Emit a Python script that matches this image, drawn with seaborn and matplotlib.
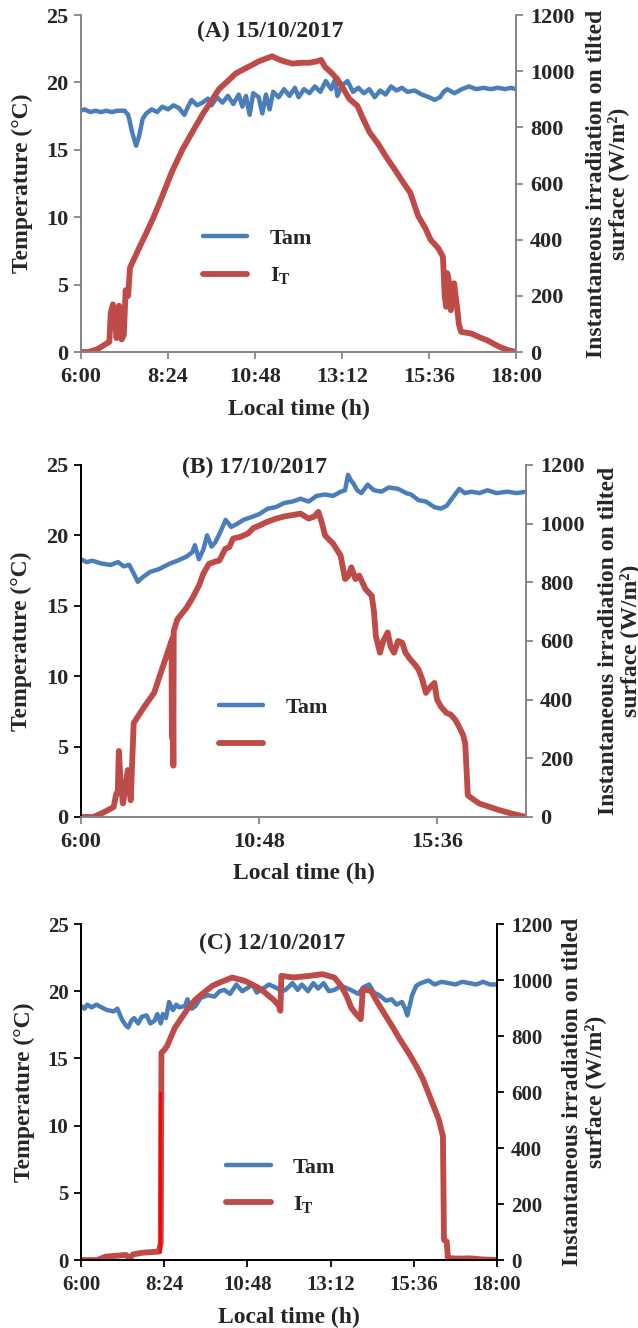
import numpy as np
import pandas as pd
import matplotlib
matplotlib.use("Agg")
import matplotlib.pyplot as plt
import seaborn as sns


# ==== data (hours, degC, W/m2) ====
a_t_tam = [6.00, 6.10, 6.25, 6.40, 6.55, 6.70, 6.85, 7.00, 7.20, 7.30, 7.42, 7.52, 7.60, 7.70,
           7.80, 7.95, 8.10, 8.24, 8.40, 8.55, 8.70, 8.85, 8.95, 9.05, 9.20, 9.35, 9.50, 9.60,
           9.75, 9.90, 10.05, 10.20, 10.35, 10.45, 10.55, 10.65, 10.75, 10.90, 11.00, 11.10,
           11.20, 11.30, 11.45, 11.60, 11.75, 11.90, 12.00, 12.15, 12.30, 12.45, 12.60, 12.75,
           12.90, 13.00, 13.07, 13.20, 13.35, 13.50, 13.65, 13.80, 13.95, 14.10, 14.25, 14.40,
           14.55, 14.70, 14.85, 15.00, 15.20, 15.40, 15.60, 15.75, 15.90, 16.00, 16.10, 16.30,
           16.50, 16.70, 16.90, 17.10, 17.30, 17.50, 17.70, 17.85, 18.00]
a_tam = [17.9, 18.0, 17.8, 17.9, 17.8, 17.9, 17.8, 17.9, 17.9, 17.6, 16.2, 15.3, 16.0, 17.3,
         17.7, 18.0, 17.8, 18.2, 18.0, 18.3, 18.1, 17.6, 18.2, 18.7, 18.3, 18.5, 18.8, 18.3,
         18.9, 18.5, 19.0, 18.4, 19.1, 18.2, 19.0, 17.6, 19.2, 18.9, 17.7, 19.1,
         18.0, 19.3, 18.9, 19.5, 19.0, 19.6, 18.9, 19.5, 19.2, 19.7, 19.3, 20.1,
         19.5, 20.2, 19.0, 19.8, 20.1, 19.3, 19.6, 19.2, 19.5, 18.9, 19.4, 19.1,
         19.7, 19.4, 19.6, 19.3, 19.4, 19.1, 18.9, 18.7, 18.9, 19.3, 19.5, 19.2,
         19.5, 19.7, 19.5, 19.6, 19.5, 19.6, 19.5, 19.6, 19.5]
a_t_irr = [6.00, 6.20, 6.45, 6.70, 6.78, 6.82, 6.88, 6.93, 6.98, 7.05, 7.12, 7.18, 7.23, 7.30,
           7.35, 7.60, 7.80, 8.00, 8.24, 8.50, 8.80, 9.10, 9.36, 9.60, 9.81, 10.05, 10.26,
           10.50, 10.70, 10.90, 11.10, 11.27, 11.45, 11.60, 11.83, 12.10, 12.30, 12.50, 12.62,
           12.73, 12.90, 13.06, 13.20, 13.40, 13.62, 13.80, 13.96, 14.20, 14.40, 14.60, 14.86,
           15.08, 15.30, 15.50, 15.64, 15.85, 15.98, 16.03, 16.07, 16.10, 16.15, 16.20, 16.25,
           16.29, 16.33, 16.37, 16.42, 16.48, 16.76, 17.00, 17.20, 17.40, 17.55, 17.75, 18.00]
a_irr = [0, 0, 10, 30, 36, 140, 170, 120, 50, 165, 45, 60, 220, 200,
         300, 370, 424, 480, 555, 640, 722, 790, 848, 895, 937, 965, 991,
         1008, 1021, 1035, 1045, 1053, 1042, 1035, 1027, 1030, 1030, 1035, 1040,
         1015, 995, 973, 945, 901, 877, 825, 782, 740, 698, 660, 609,
         567, 484, 440, 400, 370, 340, 200, 161, 281, 250, 149, 240,
         245, 200, 161, 100, 72, 66, 52, 42, 28, 18, 8, 0]

b_t_tam = [6.00, 6.15, 6.30, 6.55, 6.80, 7.00, 7.15, 7.30, 7.42, 7.53, 7.65, 7.86, 8.10, 8.40,
           8.60, 8.85, 9.00, 9.07, 9.18, 9.30, 9.40, 9.52, 9.62, 9.75, 9.90, 10.05, 10.20,
           10.38, 10.60, 10.80, 11.04, 11.25, 11.48, 11.70, 11.92, 12.14, 12.35, 12.58, 12.80,
           13.00, 13.12, 13.20, 13.28, 13.34, 13.45, 13.56, 13.73, 13.90, 14.10, 14.30, 14.55,
           14.77, 14.90, 15.10, 15.30, 15.53, 15.70, 15.86, 16.00, 16.20, 16.35, 16.52, 16.75,
           16.96, 17.20, 17.50, 17.75, 18.00]
b_tam = [18.3, 18.1, 18.2, 18.0, 17.9, 18.1, 17.8, 17.9, 17.3, 16.7, 17.0, 17.4, 17.6, 18.0,
         18.2, 18.5, 18.8, 19.3, 18.3, 19.0, 20.0, 19.2, 19.5, 20.2, 21.1, 20.6, 20.8,
         21.1, 21.3, 21.5, 21.9, 22.0, 22.3, 22.4, 22.6, 22.4, 22.8, 22.9, 22.8,
         23.1, 23.2, 24.3, 23.9, 23.7, 23.2, 23.0, 23.6, 23.2, 23.1, 23.4, 23.3,
         23.0, 22.9, 22.5, 22.4, 22.0, 21.9, 22.1, 22.6, 23.3, 23.0, 23.1, 23.0,
         23.2, 23.0, 23.1, 23.0, 23.1]
b_t_irr = [6.00, 6.33, 6.60, 6.88, 6.95, 6.99, 7.02, 7.07, 7.13, 7.20, 7.26, 7.34, 7.42, 7.70,
           7.97, 8.20, 8.41, 8.44, 8.45, 8.47, 8.49, 8.50, 8.60, 8.85, 9.00, 9.18, 9.30, 9.45,
           9.60, 9.73, 9.89, 10.00, 10.10, 10.30, 10.50, 10.65, 10.82, 11.00, 11.26, 11.50,
           11.70, 11.92, 12.14, 12.30, 12.40, 12.50, 12.58, 12.80, 13.00, 13.12, 13.20, 13.29,
           13.40, 13.50, 13.67, 13.84, 13.90, 13.95, 14.06, 14.15, 14.27, 14.35, 14.44, 14.55,
           14.66, 14.75, 14.88, 15.00, 15.10, 15.20, 15.30, 15.40, 15.53, 15.60, 15.70, 15.85,
           15.97, 16.10, 16.19, 16.30, 16.36, 16.40, 16.43, 16.60, 16.74, 17.00, 17.29, 17.60,
           18.00]
b_irr = [0, 0, 15, 34, 80, 80, 225, 120, 46, 100, 160, 57, 320, 375,
         423, 510, 589, 600, 270, 610, 175, 634, 674, 714, 745, 789, 830, 863,
         870, 874, 914, 920, 949, 955, 966, 985, 994, 1005, 1017, 1025,
         1029, 1034, 1017, 1025, 1040, 1000, 960, 931, 891, 811, 820, 851,
         811, 823, 777, 754, 700, 617, 560, 600, 629, 580, 560, 600,
         594, 560, 537, 520, 503, 470, 423, 440, 457, 400, 377, 355,
         349, 330, 309, 280, 251, 150, 74, 58, 46, 35, 23, 12,
         0]

c_t_tam = [6.00, 6.10, 6.18, 6.30, 6.45, 6.59, 6.75, 6.94, 7.05, 7.18, 7.28, 7.36, 7.45, 7.53,
           7.65, 7.75, 7.89, 8.00, 8.12, 8.20, 8.30, 8.36, 8.45, 8.54, 8.65, 8.75, 8.83, 9.00,
           9.07, 9.20, 9.30, 9.45, 9.66, 9.85, 10.00, 10.13, 10.30, 10.48, 10.65, 10.84, 10.95,
           11.07, 11.25, 11.42, 11.60, 11.80, 11.90, 12.10, 12.25, 12.37, 12.55, 12.70, 12.84,
           13.00, 13.15, 13.31, 13.50, 13.78, 14.00, 14.15, 14.31, 14.45, 14.60, 14.80, 14.96,
           15.10, 15.26, 15.35, 15.41, 15.48, 15.55, 15.67, 15.80, 16.02, 16.20, 16.40, 16.61,
           16.80, 17.00, 17.20, 17.40, 17.60, 17.80, 18.00]
c_tam = [18.9, 18.7, 19.0, 18.8, 19.0, 18.8, 18.6, 18.5, 18.7, 17.9, 17.5, 17.3, 17.8, 18.0,
         17.6, 18.1, 18.2, 17.6, 17.8, 18.3, 17.6, 18.3, 18.0, 19.2, 18.6, 19.0, 18.8, 18.9,
         19.4, 18.7, 18.9, 19.5, 19.7, 19.6, 20.0, 20.1, 19.8, 20.5, 20.0, 20.3, 20.5,
         19.9, 20.2, 20.5, 20.3, 20.0, 20.1, 20.6, 20.1, 20.5, 20.0, 20.6, 20.2,
         20.6, 20.0, 20.1, 20.4, 20.1, 19.8, 20.3, 20.5, 19.9, 19.7, 19.3, 19.4,
         19.0, 19.2, 18.7, 18.2, 18.9, 19.7, 20.4, 20.6, 20.8, 20.5, 20.7, 20.6,
         20.5, 20.7, 20.6, 20.5, 20.7, 20.5, 20.5]
c_t_irr = [6.00, 6.47, 6.71, 7.00, 7.30, 7.40, 7.50, 7.77, 8.00, 8.24, 8.30, 8.32, 8.40, 8.48,
           8.71, 9.07, 9.30, 9.54, 9.80, 10.00, 10.36, 10.72, 11.00, 11.19, 11.40, 11.54, 11.70,
           11.75, 11.78, 12.13, 12.60, 12.96, 13.31, 13.50, 13.66, 13.80, 13.90, 14.07, 14.13,
           14.37, 14.55, 14.73, 15.00, 15.20, 15.45, 15.67, 15.85, 16.02, 16.20, 16.32, 16.44,
           16.46, 16.47, 16.55, 16.58, 16.61, 17.00, 17.20, 17.60, 18.00]
c_irr = [0, 0, 12, 15, 18, 5, 20, 26, 28, 30, 60, 740, 750, 764,
         830, 896, 930, 955, 980, 991, 1009, 997, 980, 967, 945, 931, 910,
         890, 1015, 1009, 1015, 1021, 1009, 980, 943, 900, 884, 860, 967,
         961, 920, 884, 830, 788, 740, 693, 650, 597, 540, 502, 442,
         200, 72, 66, 10, 6, 5, 6, 2, 0]
c_t_jump = [8.29, 8.29]
c_irr_jump = [30, 597]

ticks_ac = [6.0, 8.4, 10.8, 13.2, 15.6, 18.0]
labels_ac = ["6:00", "8:24", "10:48", "13:12", "15:36", "18:00"]
ticks_b = [6.0, 10.8, 15.6]
labels_b = ["6:00", "10:48", "15:36"]

BLUE = "#4A7EBB"
RED = "#BE4B48"
GRAY = "#868686"

sns.set_style("white")
plt.rcParams["font.family"] = ["Liberation Serif", "DejaVu Serif"]
plt.rcParams["font.weight"] = "bold"
plt.rcParams["axes.labelweight"] = "bold"
plt.rcParams["mathtext.fontset"] = "custom"
plt.rcParams["mathtext.rm"] = "Liberation Serif:bold"
plt.rcParams["mathtext.bf"] = "Liberation Serif:bold"


def panel(fig, rect, t_tam, tam, t_irr, irr, title, title_xy, xticks, xlabels,
          spine_cols, leg_xy, leg_labels, right_label, tick_fs=16):
    ax = fig.add_axes(rect)
    ax2 = ax.twinx()

    df_t = pd.DataFrame({"t": t_tam, "v": tam})
    df_i = pd.DataFrame({"t": t_irr, "v": irr})
    sns.lineplot(data=df_t, x="t", y="v", ax=ax, color=BLUE, lw=3.2,
                 estimator=None, sort=False, label=leg_labels[0])
    sns.lineplot(data=df_i, x="t", y="v", ax=ax2, color=RED, lw=4.2,
                 estimator=None, sort=False, label=leg_labels[1])

    ax.set_xlim(6, 18)
    ax.set_ylim(0, 25)
    ax2.set_ylim(0, 1200)
    ax.set_yticks(np.arange(0, 26, 5))
    ax2.set_yticks(np.arange(0, 1201, 200))
    ax.set_xticks(xticks)
    ax.set_xticklabels(xlabels)

    left_c, bottom_c, right_c = spine_cols
    for a in (ax, ax2):
        a.spines["top"].set_visible(False)
        a.spines["left"].set_color(left_c)
        a.spines["bottom"].set_color(bottom_c)
        a.spines["right"].set_color(right_c)
        for s in ("left", "bottom", "right"):
            a.spines[s].set_linewidth(1.3)
        a.grid(False)
    ax.tick_params(axis="y", direction="out", length=5, width=1.3, color=left_c,
                   labelsize=tick_fs, pad=4, left=True)
    ax.tick_params(axis="x", direction="out", length=5, width=1.3, color=bottom_c,
                   labelsize=tick_fs, pad=6, bottom=True)
    ax2.tick_params(axis="y", direction="out", length=5, width=1.3, color=right_c,
                    labelsize=tick_fs, pad=5, right=True)

    ax.set_xlabel("Local time (h)", fontsize=17, labelpad=8)
    ax.set_ylabel("Temperature (°C)", fontsize=17)
    ax.yaxis.label.set_va("center")
    ax.yaxis.set_label_coords(-0.135, 0.5)
    ax2.set_ylabel(right_label, fontsize=17, linespacing=1.05)
    ax2.yaxis.label.set_va("center")
    ax2.yaxis.set_label_coords(1.21, 0.5)

    ax.text(title_xy[0], title_xy[1], title, transform=ax.transAxes,
            ha="center", va="center", fontsize=17, fontweight="bold")

    h1, l1 = ax.get_legend_handles_labels()
    h2, l2 = ax2.get_legend_handles_labels()
    ax.get_legend().remove()
    ax2.get_legend().remove()
    ax2.legend(h1 + h2, l1 + l2, loc="center left", bbox_to_anchor=leg_xy,
               frameon=False, fontsize=16, handlelength=2.0, handletextpad=1.0,
               labelspacing=0.75, borderpad=0, borderaxespad=0)
    return ax, ax2


fig = plt.figure(figsize=(6.38, 13.28), dpi=100)

panel(fig, [0.127, 0.7349, 0.682, 0.2538], a_t_tam, a_tam, a_t_irr, a_irr,
      "(A) 15/10/2017", (0.434, 0.95), ticks_ac, labels_ac, (GRAY, GRAY, GRAY),
      (0.28, 0.279), ["Tam", r"I$_{\mathrm{T}}$"],
      "Instantaneous irradiation on tilted\nsurface (W/m²)")

panel(fig, [0.127, 0.3848, 0.6975, 0.2651], b_t_tam, b_tam, b_t_irr, b_irr,
      "(B) 17/10/2017", (0.39, 0.994), ticks_b, labels_b, ("black", GRAY, GRAY),
      (0.31, 0.257), ["Tam", " "],
      "Instantaneous irradiation on tilted\nsurface (W/m²)")

ax_c, ax_c2 = panel(fig, [0.127, 0.0512, 0.652, 0.2530], c_t_tam, c_tam, c_t_irr, c_irr,
                    "(C) 12/10/2017", (0.46, 0.943), ticks_ac, labels_ac,
                    ("black", "black", "black"), (0.349, 0.219), ["Tam", r"I$_{\mathrm{T}}$"],
                    "Instantaneous irradiation on titled\nsurface (W/m²)", tick_fs=15)
# thin pure-red jump segment at sunrise (C)
sns.lineplot(x=c_t_jump, y=c_irr_jump, ax=ax_c2, color="#FF0000", lw=2.0,
             estimator=None, sort=False, legend=False)

fig.savefig("out.png", dpi=100)
